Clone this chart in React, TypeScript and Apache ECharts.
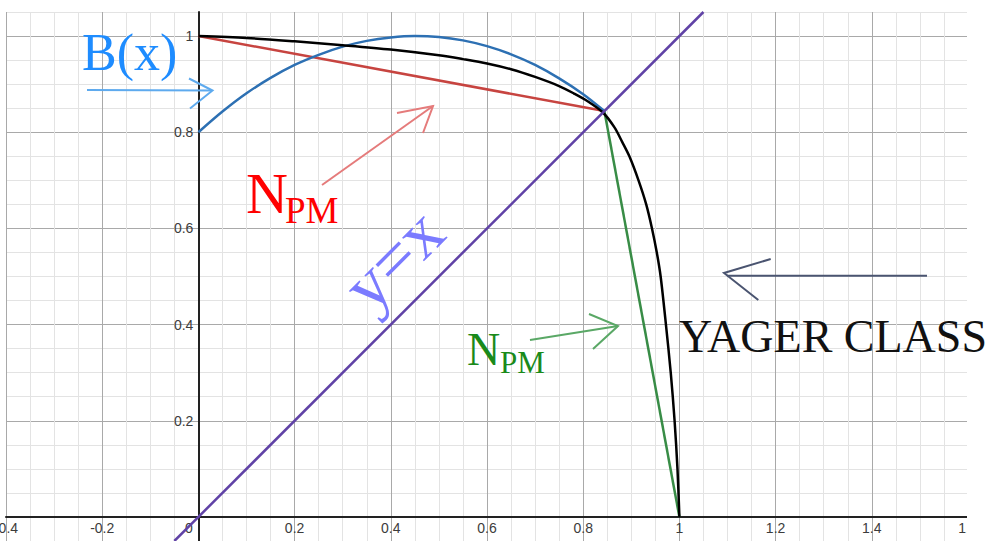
import { useEffect, useRef } from "react";
import * as echarts from "echarts";

// Yager-class negation curve (x, N(x)), symmetric about y = x
const yagerClass: [number, number][] = [
  [0, 1], [0.1, 0.996], [0.2, 0.989], [0.3, 0.981], [0.4, 0.972],
  [0.5, 0.96], [0.55, 0.952], [0.6, 0.943], [0.65, 0.931], [0.7, 0.915],
  [0.75, 0.896], [0.78, 0.881], [0.81, 0.864], [0.841, 0.841],
  [0.865, 0.81], [0.881, 0.78], [0.896, 0.75], [0.915, 0.7], [0.931, 0.65],
  [0.943, 0.6], [0.953, 0.55], [0.961, 0.5], [0.972, 0.4], [0.982, 0.3],
  [0.99, 0.2], [0.996, 0.1], [1, 0],
];

// B(x)
const bCurve: [number, number][] = [
  [0, 0.8], [0.05, 0.843], [0.1, 0.881], [0.15, 0.913], [0.2, 0.94],
  [0.25, 0.961], [0.3, 0.978], [0.35, 0.99], [0.4, 0.997], [0.45, 1.0],
  [0.5, 0.998], [0.55, 0.991], [0.6, 0.979], [0.65, 0.962], [0.7, 0.94],
  [0.75, 0.912], [0.8, 0.879], [0.844, 0.844],
];

// Piecewise-linear N_PM: upper and lower branches meeting at the fixed point
const npmUpper: [number, number][] = [[0, 1], [0.844, 0.844]];
const npmLower: [number, number][] = [[0.844, 0.844], [1, 0]];

// Identity line y = x
const diagonal: [number, number][] = [[-0.05, -0.05], [1.05, 1.05]];

// Axis ranges and labelled ticks
const X_RANGE = [-0.4, 1.6];
const Y_RANGE = [-0.05, 1.05];
const xTicks = [-0.4, -0.2, 0, 0.2, 0.4, 0.6, 0.8, 1, 1.2, 1.4, 1.6];
const yTicks = [0.2, 0.4, 0.6, 0.8, 1];

const W = 996;
const H = 541;
const GRID = { left: 6, right: 28, top: 12, bottom: 0 };

const MAJOR = "#a9a9a9";
const MINOR = "#e3e3e3";
const SERIF = '"Liberation Serif", "Times New Roman", serif';
const SANS = 'Arial, "Liberation Sans", sans-serif';

const isTick = (v: number, ticks: number[]) => ticks.some((t) => Math.abs(t - v) < 1e-6);
const fmt = (v: number) => String(Math.round(v * 10) / 10);

function arrow(line: number[][], head: number[][], color: string) {
  return [
    { type: "polyline", z: 60, shape: { points: line }, style: { stroke: color, lineWidth: 2, fill: "none" } },
    { type: "polyline", z: 60, shape: { points: head }, style: { stroke: color, lineWidth: 2, fill: "none" } },
  ];
}

function label(text: string, x: number, y: number, size: number, color: string, extra: any = {}) {
  const { align, ...rest } = extra;
  return {
    type: "text",
    z: 70,
    x,
    y,
    ...rest,
    style: {
      text,
      fill: color,
      font: `${size}px ${SERIF}`,
      textAlign: align || "left",
      textVerticalAlign: "middle",
      align: align || "left",
      verticalAlign: "middle",
    },
  };
}

export default function App() {
  const ref = useRef<HTMLDivElement>(null);

  useEffect(() => {
    if (!ref.current) return;
    const chart = echarts.init(ref.current, null, { renderer: "svg" });

    // Place both axes through the origin, Desmos style
    const gw = W - GRID.left - GRID.right;
    const gh = H - GRID.top - GRID.bottom;
    const yAxisShift = (gw * (0 - X_RANGE[0])) / (X_RANGE[1] - X_RANGE[0]);
    const xAxisShift = (gh * (0 - Y_RANGE[0])) / (Y_RANGE[1] - Y_RANGE[0]);

    const option: any = {
      animation: false,
      backgroundColor: "#ffffff",
      grid: { ...GRID, containLabel: false, outerBoundsMode: "none" },
      xAxis: {
        type: "value",
        position: "bottom",
        offset: -xAxisShift,
        min: X_RANGE[0],
        max: X_RANGE[1],
        interval: 0.05,
        axisLine: { onZero: false, lineStyle: { color: "#222", width: 2 } },
        axisTick: { show: false },
        axisLabel: {
          margin: 4,
          fontSize: 14,
          color: "#3c3c3c",
          fontFamily: SANS,
          showMinLabel: true,
          showMaxLabel: true,
          formatter: (v: number) => {
            if (!isTick(v, xTicks)) return "";
            if (Math.abs(v) < 1e-6) return "{o|0}";
            return fmt(v);
          },
          rich: {
            o: { fontSize: 14, color: "#3c3c3c", fontFamily: SANS, padding: [0, 19, 0, 0] },
          },
        },
        splitLine: { show: true, lineStyle: { color: [MAJOR, MINOR, MINOR, MINOR], width: 1 } },
      },
      yAxis: {
        type: "value",
        position: "left",
        offset: -yAxisShift,
        min: Y_RANGE[0],
        max: Y_RANGE[1],
        interval: 0.05,
        axisLine: { onZero: false, lineStyle: { color: "#222", width: 2 } },
        axisTick: { show: false },
        axisLabel: {
          margin: 5,
          fontSize: 14,
          color: "#3c3c3c",
          fontFamily: SANS,
          formatter: (v: number) => (isTick(v, yTicks) ? fmt(v) : ""),
        },
        splitLine: { show: true, lineStyle: { color: [MINOR, MAJOR, MINOR, MINOR], width: 1 } },
      },
      series: [
        {
          name: "N_PM upper",
          type: "line",
          data: npmUpper,
          showSymbol: false,
          lineStyle: { color: "#c74440", width: 2.5 },
        },
        {
          name: "B(x)",
          type: "line",
          data: bCurve,
          smooth: 0.3,
          showSymbol: false,
          lineStyle: { color: "#2d70b3", width: 2.5 },
        },
        {
          name: "N_PM lower",
          type: "line",
          data: npmLower,
          showSymbol: false,
          lineStyle: { color: "#388c46", width: 2.5 },
        },
        {
          name: "Yager class",
          type: "line",
          data: yagerClass,
          smooth: 0.3,
          showSymbol: false,
          lineStyle: { color: "#000000", width: 2.5 },
        },
        {
          name: "y = x",
          type: "line",
          data: diagonal,
          showSymbol: false,
          lineStyle: { color: "#6042a6", width: 2.5 },
        },
      ],
      graphic: {
        elements: [
          // blank margin past the right edge of the grid
          { type: "rect", z: 50, shape: { x: 967, y: 0, width: 40, height: 541 }, style: { fill: "#ffffff" } },

          label("B(x)", 82, 52, 52, "#1e8cff"),
          ...arrow([[87, 90], [212, 90.5]], [[189, 78.5], [212.5, 90.5], [190, 108.5]], "#5eaaee"),

          label("N", 246, 193, 58, "#ff0000"),
          label("PM", 285, 210, 37, "#ff0000"),
          ...arrow([[322, 185], [433, 106]], [[397, 113], [433, 106], [423, 133]], "#e57b7b"),

          label("y=x", 393, 259, 70, "#7b7bff", { rotation: Math.PI / 4, align: "center" }),

          label("N", 467, 349, 46, "#1a8a1a"),
          label("PM", 500, 362, 31, "#1a8a1a"),
          ...arrow([[530, 340], [618, 326]], [[589, 314], [618, 326], [593, 349]], "#5aa866"),

          label("YAGER CLASS", 679, 336.5, 46, "#111111"),
          ...arrow([[927, 275.7], [727, 275.7]], [[770.7, 259], [724, 273], [758.3, 300]], "#4a5470"),
        ],
      },
    };

    chart.setOption(option);
    return () => chart.dispose();
  }, []);

  return (
    <div
      ref={ref}
      style={{ position: "fixed", left: 0, top: 0, width: W, height: H, background: "#fff" }}
    />
  );
}
